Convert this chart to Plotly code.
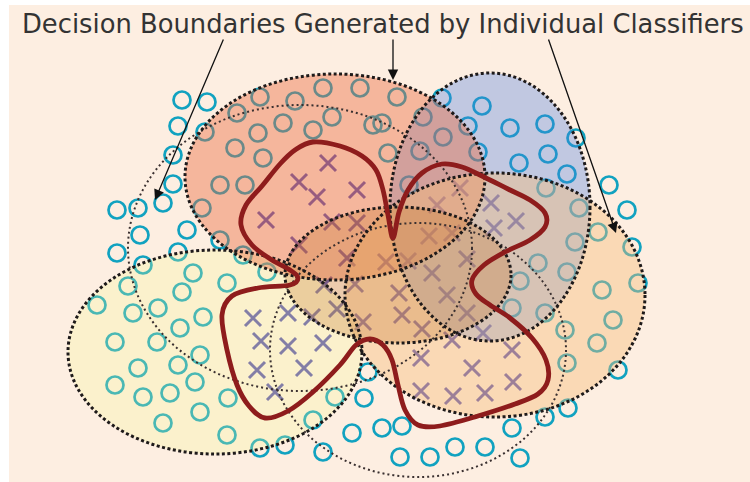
import plotly.graph_objects as go

# ---------------- data ----------------
title_text = "Decision Boundaries Generated by Individual Classifiers"

# open circles (class "o")
circ_x = [182, 207, 178, 205, 173, 173, 117, 138, 163, 140, 117, 143, 128,
          260, 295, 323, 360, 397, 237, 283, 258, 332, 313, 373, 235, 263, 220, 245, 202, 187, 178, 220, 243, 193, 227, 267, 182,
          442, 482, 423, 468, 510, 545, 443, 420, 388, 478, 576, 519, 548, 567, 546, 579, 609, 627, 409, 382,
          598, 632, 575, 538, 567, 520, 602, 638, 512, 545, 565, 613, 597, 567, 618, 568, 545, 512, 485, 455, 430, 400, 382, 402, 520, 368, 364,
          97, 133, 158, 203, 115, 157, 180, 200, 138, 178, 115, 143, 170, 195, 200, 228, 163, 227, 260, 285, 313, 335, 323, 352]
circ_y = [100, 102, 126, 132, 155, 184, 210, 208, 203, 235, 253, 265, 286,
          97, 101, 88, 88, 97, 113, 123, 133, 117, 130, 125, 148, 158, 185, 185, 208, 230, 252, 240, 255, 273, 283, 272, 292,
          98, 106, 117, 126, 128, 124, 137, 151, 153, 152, 138, 163, 154, 174, 188, 208, 185, 210, 185, 123,
          232, 247, 242, 263, 272, 281, 290, 283, 308, 313, 330, 320, 343, 363, 370, 408, 417, 428, 447, 447, 457, 457, 428, 426, 458, 372, 398,
          305, 313, 308, 317, 342, 342, 328, 355, 368, 365, 385, 397, 393, 382, 412, 398, 423, 435, 448, 445, 420, 397, 452, 433]

# crosses (class "x")
cross_x = [328, 299, 317, 357, 266, 332, 357, 299, 347, 386, 460, 437, 491, 516, 494, 429, 452, 408, 467, 432,
           399, 447, 324, 355, 312, 337, 363, 253, 288, 261, 288, 323, 257, 304, 275, 402, 467, 422, 452, 483,
           421, 472, 512, 513, 421, 453, 485]
cross_y = [163, 182, 197, 190, 220, 222, 223, 245, 258, 262, 188, 205, 203, 221, 228, 236, 233, 261, 259, 273,
           293, 295, 285, 284, 317, 309, 322, 318, 313, 341, 346, 343, 370, 368, 392, 315, 313, 329, 340, 333,
           358, 368, 350, 382, 391, 396, 393]

# individual classifier regions (filled ellipses): yellow, blue, salmon, orange, brown
ell_cx = [215, 490, 335, 495, 398]
ell_cy = [352, 207, 177, 295, 275]
ell_rx = [147, 100, 150, 150, 113]
ell_ry = [102, 134, 103, 122, 68]
ell_fill = ["rgba(249,250,145,0.25)", "rgba(73,124,225,0.33)", "rgba(233,105,63,0.42)",
            "rgba(246,189,121,0.42)", "rgba(195,115,40,0.28)"]

# unfilled classifier boundaries (thin dotted ellipses)
ring_cx = [300, 418]
ring_cy = [248, 350]
ring_rx = [172, 148]
ring_ry = [143, 127]

# ensemble decision boundary (closed curve control points)
bound_x = [313, 340, 362, 376, 383, 388, 393, 399, 408, 422, 442, 462, 484, 508, 530, 545, 545, 530, 505, 484,
           472, 476, 490, 510, 532, 546, 548, 538, 515, 478, 440, 418, 405, 398, 392, 383, 370, 356, 340, 313,
           288, 265, 249, 237, 227, 222, 232, 258, 290, 298, 290, 272, 252, 241, 246, 262, 280, 295]
bound_y = [142, 146, 156, 170, 190, 215, 238, 212, 190, 173, 164, 167, 177, 189, 200, 213, 227, 240, 252, 265,
           280, 294, 305, 318, 338, 360, 380, 394, 404, 416, 426, 425, 410, 385, 360, 345, 339, 345, 365, 392,
           411, 418, 406, 385, 350, 315, 296, 288, 285, 278, 270, 260, 245, 225, 205, 186, 164, 150]

# arrows: (tip, tail)
arrow_tip_x = [155, 393, 616]
arrow_tip_y = [200, 80, 233]
arrow_tail_x = [224, 393, 548]
arrow_tail_y = [38, 38, 38]

# ---------------- figure ----------------
fig = go.Figure()

fig.add_trace(go.Scatter(
    x=circ_x, y=circ_y, mode="markers",
    marker=dict(symbol="circle-open", size=17, color="#11a2c0", line=dict(width=2.7, color="#11a2c0")),
    hoverinfo="skip"))
fig.add_trace(go.Scatter(
    x=cross_x, y=cross_y, mode="markers",
    marker=dict(symbol="x-thin", size=16, color="#5d54ae", line=dict(width=3, color="#5d54ae")),
    hoverinfo="skip"))

shapes = []
# peach background panel
shapes.append(dict(type="rect", xref="x", yref="y", x0=9, x1=750, y0=5, y1=482,
                   fillcolor="#fdeee1", line=dict(width=0), layer="below"))
# translucent fills drawn over the samples
for cx, cy, rx, ry, fc in zip(ell_cx, ell_cy, ell_rx, ell_ry, ell_fill):
    shapes.append(dict(type="circle", xref="x", yref="y", x0=cx - rx, x1=cx + rx, y0=cy - ry, y1=cy + ry,
                       fillcolor=fc, line=dict(width=0), layer="above"))
# thin dotted rings
for cx, cy, rx, ry in zip(ring_cx, ring_cy, ring_rx, ring_ry):
    shapes.append(dict(type="circle", xref="x", yref="y", x0=cx - rx, x1=cx + rx, y0=cy - ry, y1=cy + ry,
                       fillcolor="rgba(0,0,0,0)", line=dict(width=2, color="#3a3030", dash="2px,3px"),
                       layer="above"))
# heavy dotted outlines
for cx, cy, rx, ry in zip(ell_cx, ell_cy, ell_rx, ell_ry):
    shapes.append(dict(type="circle", xref="x", yref="y", x0=cx - rx, x1=cx + rx, y0=cy - ry, y1=cy + ry,
                       fillcolor="rgba(0,0,0,0)", line=dict(width=3, color="#1e1a1a", dash="3px,2.5px"),
                       layer="above"))

# smooth closed path through the boundary control points (Catmull-Rom -> cubic Bezier)
n = len(bound_x)
pts = list(zip(bound_x, bound_y))
path = "M {},{}".format(*pts[0])
for i in range(n):
    p0 = pts[(i - 1) % n]
    p1 = pts[i]
    p2 = pts[(i + 1) % n]
    p3 = pts[(i + 2) % n]
    c1 = (p1[0] + (p2[0] - p0[0]) / 6.0, p1[1] + (p2[1] - p0[1]) / 6.0)
    c2 = (p2[0] - (p3[0] - p1[0]) / 6.0, p2[1] - (p3[1] - p1[1]) / 6.0)
    path += " C {:.2f},{:.2f} {:.2f},{:.2f} {},{}".format(c1[0], c1[1], c2[0], c2[1], p2[0], p2[1])
path += " Z"
shapes.append(dict(type="path", xref="x", yref="y", path=path, fillcolor="rgba(0,0,0,0)",
                   line=dict(width=4.8, color="#8e1c1c"), layer="above"))

annotations = [dict(x=20, y=24, xref="x", yref="y", text=title_text, showarrow=False,
                    xanchor="left", yanchor="middle",
                    font=dict(family="DejaVu Sans", size=25.8, color="#333333"))]
for tx, ty, ax, ay in zip(arrow_tip_x, arrow_tip_y, arrow_tail_x, arrow_tail_y):
    annotations.append(dict(x=tx, y=ty, ax=ax, ay=ay, xref="x", yref="y", axref="x", ayref="y",
                            text="", showarrow=True, arrowhead=2, arrowsize=1.6, arrowwidth=1.3,
                            arrowcolor="#111111", standoff=0))

fig.update_layout(
    width=750, height=482,
    margin=dict(l=0, r=0, t=0, b=0),
    paper_bgcolor="white", plot_bgcolor="white",
    showlegend=False,
    xaxis=dict(range=[0, 750], visible=False, fixedrange=True),
    yaxis=dict(range=[482, 0], visible=False, fixedrange=True),
    shapes=shapes, annotations=annotations,
)

fig.write_html("out.html", config={"displayModeBar": False},
               post_script="document.body.style.margin='0';")
